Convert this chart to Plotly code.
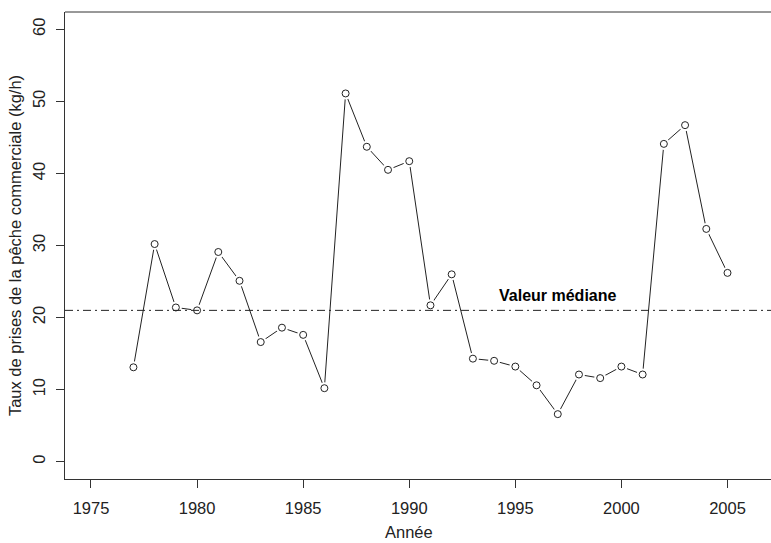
import numpy as np
import plotly.graph_objects as go

# Commercial catch rate by year (kg/h)
annees = list(range(1977, 2006))
taux = [13.1, 30.2, 21.4, 21.0, 29.1, 25.1, 16.6, 18.6, 17.6, 10.2,
        51.1, 43.7, 40.5, 41.7, 21.7, 26.0, 14.3, 14.0, 13.2, 10.6,
        6.6, 12.1, 11.6, 13.2, 12.1, 44.1, 46.7, 32.3, 26.2]
x_ticks = [1975, 1980, 1985, 1990, 1995, 2000, 2005]
y_ticks = [0, 10, 20, 30, 40, 50, 60]
mediane = float(np.median(taux))

FONT = "Liberation Sans, Arial, sans-serif"
INK = "#222222"

fig = go.Figure()
# connecting line
fig.add_trace(go.Scatter(x=annees, y=taux, mode="lines",
                         line=dict(color=INK, width=1), hoverinfo="skip"))
# white halo so the line stops short of each point
fig.add_trace(go.Scatter(x=annees, y=taux, mode="markers",
                         marker=dict(size=12, color="white", line=dict(width=0)),
                         hoverinfo="skip"))
# open circles
fig.add_trace(go.Scatter(x=annees, y=taux, mode="markers",
                         marker=dict(size=7, color="white", symbol="circle",
                                     line=dict(color=INK, width=1))))

# median reference line
fig.add_shape(type="line", xref="paper", x0=0, x1=1, yref="y",
              y0=mediane, y1=mediane,
              line=dict(color=INK, width=1, dash="8px,4px,2px,4px"))
fig.add_annotation(x=1997.0, y=23.1, text="<b>Valeur médiane</b>", showarrow=False,
                   font=dict(family=FONT, size=16, color="black"),
                   xanchor="center", yanchor="middle")

# x-axis title
fig.add_annotation(x=0.487, y=-0.1135, xref="paper", yref="paper",
                   text="Année", showarrow=False,
                   font=dict(family=FONT, size=16.5, color=INK),
                   xanchor="center", yanchor="middle")

# top border of the plotting box
fig.add_shape(type="line", xref="paper", yref="paper", x0=0, x1=1, y0=1, y1=1,
              line=dict(color="#333333", width=1))

fig.update_xaxes(range=[1973.775, 2007.05], tickvals=x_ticks,
                 ticktext=[str(v) for v in x_ticks],
                 showgrid=False, zeroline=False, showline=True,
                 linecolor="#333333", linewidth=1, ticks="outside",
                 ticklen=8, tickcolor="#333333", ticklabelstandoff=6,
                 tickfont=dict(family=FONT, size=16.5, color=INK))
fig.update_yaxes(range=[-2.4, 62.4], tickvals=y_ticks,
                 ticktext=[str(v) for v in y_ticks], tickangle=-90,
                 showgrid=False, zeroline=False, showline=True,
                 linecolor="#333333", linewidth=1, ticks="outside",
                 ticklen=8, tickcolor="#333333", ticklabelstandoff=4,
                 tickfont=dict(family=FONT, size=16.5, color=INK),
                 title=dict(text="Taux de prises de la pêche commerciale (kg/h)",
                            font=dict(family=FONT, size=16.5, color=INK),
                            standoff=4))

fig.update_layout(width=771, height=543, showlegend=False,
                  margin=dict(l=65, r=0, t=12, b=64),
                  plot_bgcolor="white", paper_bgcolor="white")

fig.write_html("out.html")
